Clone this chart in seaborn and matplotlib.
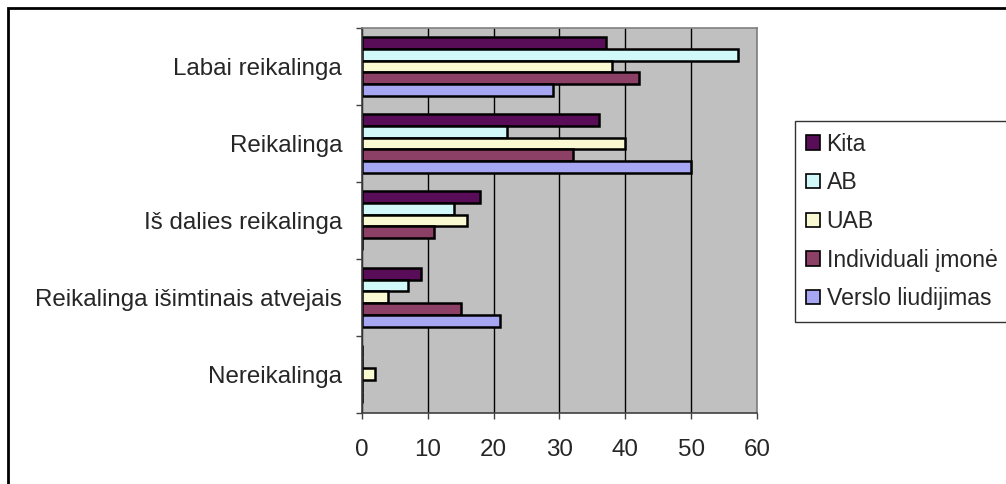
import numpy as np
import pandas as pd
import matplotlib
matplotlib.use("Agg")
import matplotlib.pyplot as plt
from matplotlib.patches import Rectangle
from matplotlib.ticker import FixedLocator
import seaborn as sns

# answer categories, top to bottom
categories = ["Labai reikalinga", "Reikalinga", "Iš dalies reikalinga",
              "Reikalinga išimtinais atvejais", "Nereikalinga"]

# one list per legal form
kita = [37, 36, 18, 9, 0]
ab = [57, 22, 14, 7, 0]
uab = [38, 40, 16, 4, 2]
individuali = [42, 32, 11, 15, 0]
verslo = [29, 50, 0, 21, 0]

series_names = ["Kita", "AB", "UAB", "Individuali įmonė", "Verslo liudijimas"]
series_values = [kita, ab, uab, individuali, verslo]
series_colors = ["#660066", "#CCFFFF", "#FFFFCC", "#993366", "#9999FF"]

x_ticks = [0, 10, 20, 30, 40, 50, 60]

# long format table for seaborn
rows = []
for name, vals in zip(series_names, series_values):
    for cat, v in zip(categories, vals):
        rows.append({"category": cat, "series": name, "value": v})
df = pd.DataFrame(rows)

FS = 17.4
LEG_FS = 16.6

sns.set_style("white")
plt.rcParams["font.family"] = ["Liberation Sans", "DejaVu Sans"]
plt.rcParams["font.size"] = FS

fig = plt.figure(figsize=(10.06, 4.84), dpi=100)
ax = fig.add_axes([0.3595, 0.1473, 0.3933, 0.7948])

sns.barplot(data=df, x="value", y="category", hue="series",
            order=categories, hue_order=series_names,
            palette=dict(zip(series_names, series_colors)),
            width=0.76, gap=0, edgecolor="black", linewidth=1.8,
            orient="h", ax=ax)

ax.set_facecolor("#C0C0C0")
ax.set_xlim(0, 60)
ax.set_xticks(x_ticks)
ax.set_ylim(len(categories) - 0.5, -0.5)
ax.grid(axis="x", color="black", linewidth=1)
ax.set_axisbelow(True)
ax.set_xlabel("")
ax.set_ylabel("")

# ticks: boundaries on y get small marks, labels sit in between
ax.yaxis.set_minor_locator(FixedLocator(np.arange(-0.5, len(categories), 1.0)))
ax.tick_params(axis="y", which="major", length=0, pad=14, labelsize=FS)
ax.tick_params(axis="y", which="minor", length=4.5, width=1, color="#404040", direction="out", left=True)
ax.tick_params(axis="x", which="major", length=4.5, width=1, color="#404040", direction="out",
               bottom=True, pad=14.5, labelsize=FS)

for side in ["left", "bottom"]:
    ax.spines[side].set_color("#404040")
    ax.spines[side].set_linewidth(1.2)
for side in ["top", "right"]:
    ax.spines[side].set_color("#808080")
    ax.spines[side].set_linewidth(1.2)

# legend placed to the right, like the original chart
handles, labels = ax.get_legend_handles_labels()
ax.get_legend().remove()
leg = fig.legend(handles, labels, loc="upper left", bbox_to_anchor=(0.790, 0.75),
                 frameon=True, fancybox=False, shadow=False, fontsize=LEG_FS,
                 handlelength=0.58, handleheight=0.58, handletextpad=0.3,
                 labelspacing=0.68, borderpad=0.5, borderaxespad=0)
leg.get_frame().set_edgecolor("black")
leg.get_frame().set_linewidth(1)
for h in leg.legend_handles:
    h.set_edgecolor("black")
    h.set_linewidth(1.2)

# outer chart border (runs off the right and bottom edges)
fig.patches.append(Rectangle((8 / 1006, -0.2), 1.2, 1.2 - 8 / 484,
                             transform=fig.transFigure, fill=False,
                             edgecolor="black", linewidth=2, zorder=10))

fig.savefig("out.png", dpi=100)
